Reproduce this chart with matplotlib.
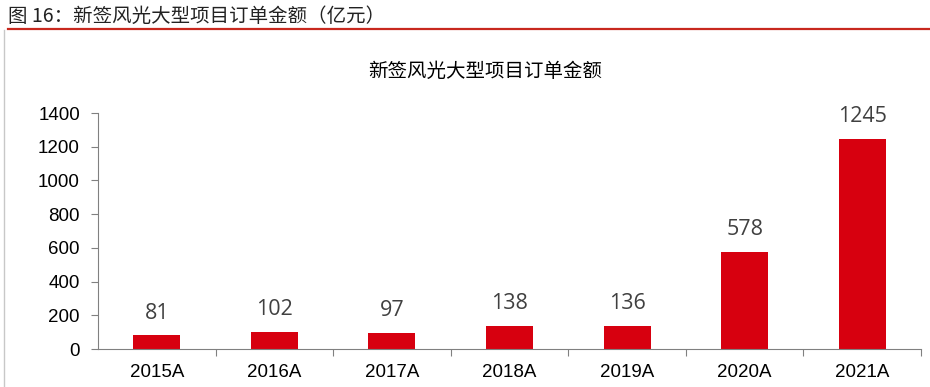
import matplotlib
matplotlib.use("Agg")
import matplotlib.pyplot as plt
from matplotlib.lines import Line2D

plt.rcParams['font.family'] = ['Liberation Sans', 'Noto Sans CJK SC', 'DejaVu Sans']

categories = ["2015A", "2016A", "2017A", "2018A", "2019A", "2020A", "2021A"]
values = [81, 102, 97, 138, 136, 578, 1245]
yticks = [0, 200, 400, 600, 800, 1000, 1200, 1400]
header = "图 16：新签风光大型项目订单金额（亿元）"
title = "新签风光大型项目订单金额"

fig = plt.figure(figsize=(9.30, 3.87), dpi=100)
ax = fig.add_axes([98/930, 1-349/387, (921-98)/930, (349-113)/387])

x = list(range(len(categories)))
bars = ax.bar(x, values, width=0.4, color="#D7000F")
ax.set_xlim(-0.5, len(categories)-0.5)
ax.set_ylim(0, 1400)
ax.set_yticks(yticks)
ax.set_yticklabels([str(v) for v in yticks], fontsize=13.5, color="black")
ax.set_xticks(x)
ax.set_xticklabels(categories, fontsize=13.5)
ax.tick_params(axis='x', length=0, pad=11)
ax.tick_params(axis='y', length=5, width=0.8, color="#808080", pad=8)
# minor ticks between categories on x axis
ax.set_xticks([i + 0.5 for i in range(len(categories))], minor=True)
ax.tick_params(axis='x', which='minor', length=5, width=0.8, color="#808080", direction='out')

for s in ["top", "right"]:
    ax.spines[s].set_visible(False)
for s in ["left", "bottom"]:
    ax.spines[s].set_color("#808080")
    ax.spines[s].set_linewidth(0.8)

for xi, v in zip(x, values):
    ax.annotate(str(v), (xi, v), xytext=(0, 16), textcoords="offset points",
                ha="center", va="center", fontsize=15.5, color="#404040",
                family=['Open Sans', 'DejaVu Sans'])

fig.text(485/930, 1-71/387, title, ha="center", va="center", fontsize=14,
         family=['Noto Sans CJK SC', 'DejaVu Sans'])
fig.text(8/930, 1-16/387, header, ha="left", va="center", fontsize=14,
         family=['Noto Sans CJK SC', 'DejaVu Sans'], color="#222222")

fig.add_artist(Line2D([8/930, 1.0], [1-29/387, 1-29/387], color="#C8281E", linewidth=1.6,
                      transform=fig.transFigure))
fig.add_artist(Line2D([3.5/930, 3.5/930], [0, 1-30/387], color="#C8C8C8", linewidth=1,
                      transform=fig.transFigure))

fig.savefig("out.png", dpi=100)
